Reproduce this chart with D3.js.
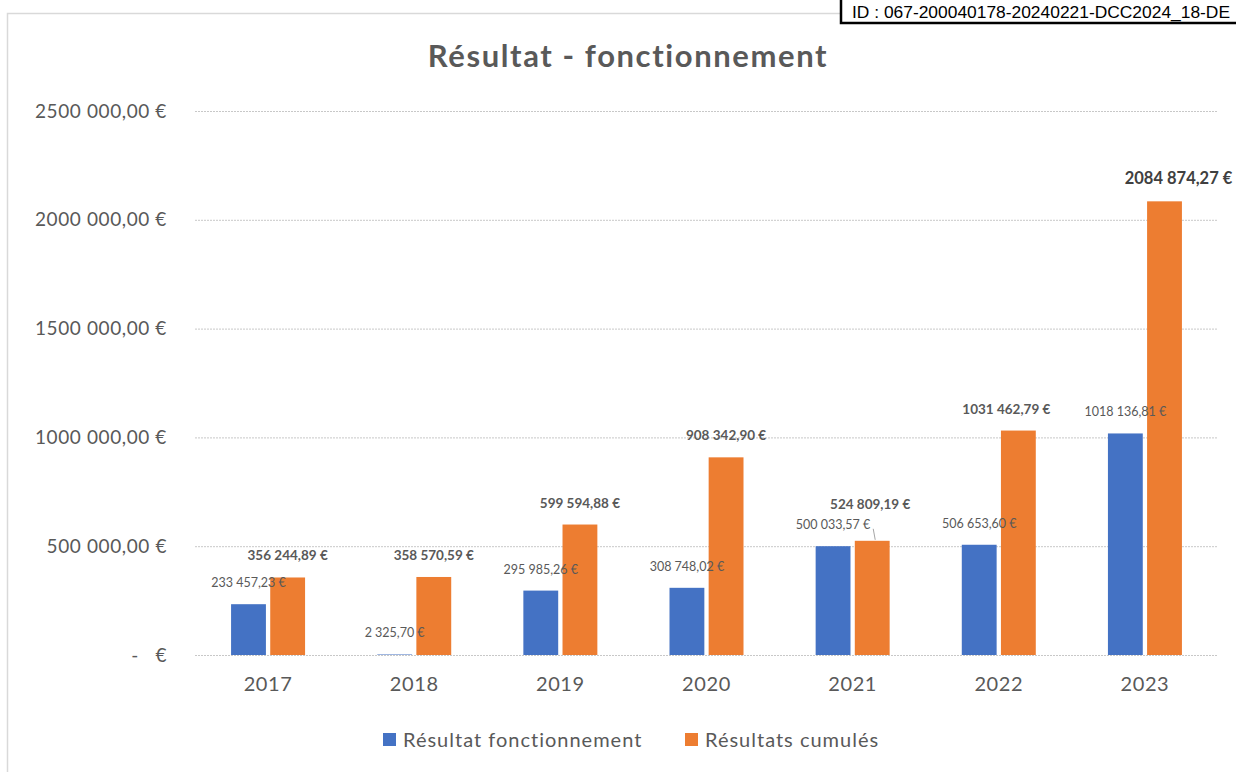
<!DOCTYPE html>
<html>
<head>
<meta charset="utf-8">
<script src="https://cdn.jsdelivr.net/npm/d3@7"></script>
<style>
  body { margin: 0; background: #fff; }
  svg { display: block; }
</style>
</head>
<body>
<div id="vis"></div>
<script>
// Données
const annees = ["2017", "2018", "2019", "2020", "2021", "2022", "2023"];
const resultatFonct = [233457.23, 2325.70, 295985.26, 308748.02, 500033.57, 506653.60, 1018136.81];
const resultatsCumules = [356244.89, 358570.59, 599594.88, 908342.90, 524809.19, 1031462.79, 2084874.27];
const ticksY = [0, 500000, 1000000, 1500000, 2000000, 2500000];
const series = ["Résultat fonctionnement", "Résultats cumulés"];

const WIDTH = 1236;
const HEIGHT = 772;
const COULEURS = ["#4472c4", "#ed7d31"];
const GRIS = "#595959";

const SVG = d3.select("#vis").append("svg")
    .attr("width", WIDTH).attr("height", HEIGHT);

// cadre du graphique
SVG.append("path")
    .attr("d", "M7.5,772 L7.5,13.5 L845,13.5")
    .attr("fill", "none").attr("stroke", "#d9d9d9").attr("stroke-width", 1.5);

// tampon ID en haut a droite
const idBox = SVG.append("g");
idBox.append("rect")
    .attr("x", 841).attr("y", -3).attr("width", 410).attr("height", 26)
    .attr("fill", "#fff").attr("stroke", "#000").attr("stroke-width", 2.5);
idBox.append("text")
    .attr("x", 852).attr("y", 18)
    .attr("font-family", "Liberation Sans, Arial").attr("font-size", 17.4)
    .attr("fill", "#000")
    .text("ID : 067-200040178-20240221-DCC2024_18-DE");

// Escalas
const x = d3.scaleBand().domain(annees).range([195, 1218]);
const xSub = d3.scaleBand().domain([0, 1]).range([x.bandwidth() / 2 - 37, x.bandwidth() / 2 + 37]).paddingInner(0.11);
const y = d3.scaleLinear().domain([0, 2500000]).range([655, 111]);

// format Excel : une seule espace avant les milliers
const fmt = v => {
    const [ent, dec] = v.toFixed(2).split(".");
    const e = ent.length > 3 ? ent.slice(0, -3) + " " + ent.slice(-3) : ent;
    return e + "," + dec + " €";
};
const fmtAxe = v => v === 0 ? "-   €" : fmt(v);

// Titre
SVG.append("text")
    .attr("x", 628).attr("y", 67)
    .attr("text-anchor", "middle")
    .attr("font-family", "Lato").attr("font-weight", "bold").attr("font-size", 31)
    .attr("letter-spacing", 1.6)
    .attr("fill", GRIS)
    .text("Résultat - fonctionnement");

// grille
const grille = SVG.append("g");
grille.selectAll("line").data(ticksY).join("line")
    .attr("x1", 195).attr("x2", 1218)
    .attr("y1", d => y(d) + 0.5).attr("y2", d => y(d) + 0.5)
    .attr("stroke", "#c8c8c8").attr("stroke-width", 1)
    .attr("stroke-dasharray", "2,1");

// axe Y
const axeY = SVG.append("g")
    .attr("transform", "translate(167,0)")
    .call(d3.axisLeft(y).tickValues(ticksY).tickFormat(fmtAxe).tickSize(0).tickPadding(0));
axeY.select(".domain").remove();
axeY.selectAll("text")
    .attr("font-family", "Lato").attr("font-size", 19).attr("letter-spacing", 0.6).attr("fill", GRIS)
    .style("white-space", "pre").attr("xml:space", "preserve");

// axe X
const axeX = SVG.append("g")
    .attr("transform", "translate(0,655)")
    .call(d3.axisBottom(x).tickSize(0).tickPadding(22));
axeX.select(".domain").remove();
axeX.selectAll("text")
    .attr("font-family", "Lato").attr("font-size", 20).attr("letter-spacing", 0.6).attr("fill", GRIS);

// barres
const donnees = annees.map((a, i) => ({ annee: a, valeurs: [resultatFonct[i], resultatsCumules[i]] }));

const groupes = SVG.append("g").selectAll("g").data(donnees).join("g")
    .attr("transform", d => `translate(${x(d.annee)},0)`);

groupes.selectAll("rect").data(d => d.valeurs.map((v, s) => ({ v, s }))).join("rect")
    .attr("x", d => xSub(d.s))
    .attr("width", xSub.bandwidth())
    .attr("y", d => y(d.v))
    .attr("height", d => y(0) - y(d.v))
    .attr("fill", d => COULEURS[d.s]);

// etiquettes (deplacements manuels comme dans l'original)
const decal = {
    "2021-1": [-2, -15],
    "2022-1": [-12, 0],
    "2023-1": [14, 0]
};

groupes.selectAll("text.lbl").data(d => d.valeurs.map((v, s) => ({ v, s, annee: d.annee }))).join("text")
    .attr("class", "lbl")
    .attr("x", d => xSub(d.s) + xSub.bandwidth() / 2 + (decal[d.annee + "-" + d.s] || [0, 0])[0])
    .attr("y", d => y(d.v) - 17 + (decal[d.annee + "-" + d.s] || [0, 0])[1])
    .attr("text-anchor", "middle")
    .attr("font-family", "Lato")
    .attr("font-weight", d => d.s === 1 ? "bold" : "normal")
    .attr("font-size", d => d.annee === "2023" && d.s === 1 ? 16.5 : (d.s === 1 ? 13.5 : 12.5))
    .attr("fill", d => d.annee === "2023" && d.s === 1 ? "#404040" : GRIS)
    .text(d => fmt(d.v));

// ligne de rappel 2021
const i21 = annees.indexOf("2021");
SVG.append("line")
    .attr("x1", x("2021") + xSub(1) + xSub.bandwidth() / 2 + 1)
    .attr("x2", x("2021") + xSub(1) + xSub.bandwidth() / 2 + 3)
    .attr("y1", y(resultatsCumules[i21]) - 12)
    .attr("y2", y(resultatsCumules[i21]) - 1)
    .attr("stroke", "#a6a6a6").attr("stroke-width", 1);

// legende
const legende = SVG.append("g").attr("transform", "translate(383,733)");
const posLeg = [0, 302];
legende.selectAll("rect").data(series).join("rect")
    .attr("x", (d, i) => posLeg[i]).attr("y", 0)
    .attr("width", 13).attr("height", 13)
    .attr("fill", (d, i) => COULEURS[i]);
legende.selectAll("text").data(series).join("text")
    .attr("x", (d, i) => posLeg[i] + 20).attr("y", 14)
    .attr("font-family", "Lato").attr("font-size", 20).attr("letter-spacing", 1)
    .attr("fill", GRIS)
    .text(d => d);
</script>
</body>
</html>
